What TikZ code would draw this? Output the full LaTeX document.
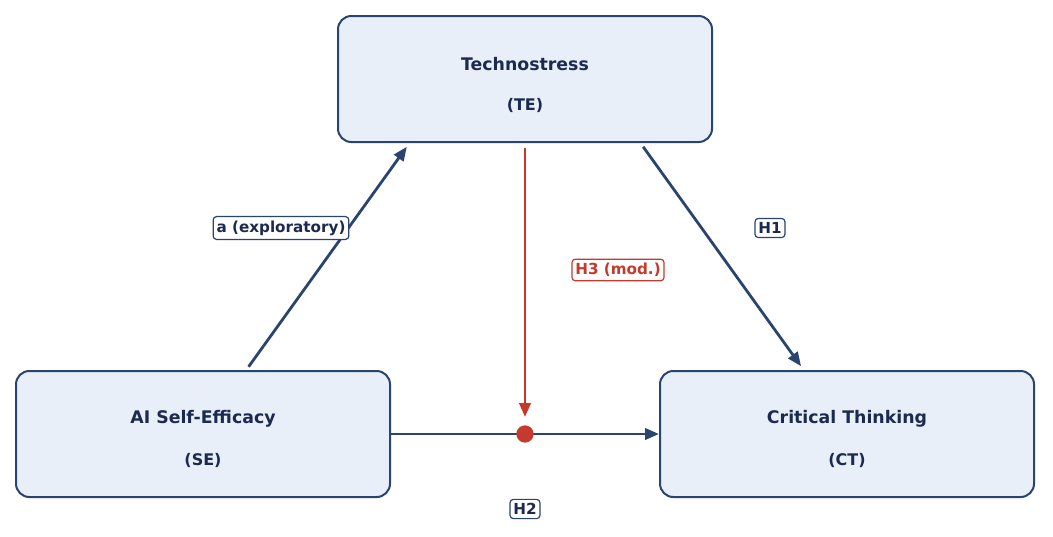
\documentclass[tikz,border=0pt]{standalone}
\usepackage{fontspec}
\setmainfont{DejaVu Sans}
\usetikzlibrary{arrows.meta,calc}
\definecolor{navy}{HTML}{2A4470}
\definecolor{ink}{HTML}{1B2A4E}
\definecolor{boxfill}{HTML}{E9EFF8}
\definecolor{modred}{HTML}{C43A2C}

\begin{document}
\begin{tikzpicture}[
  x=0.75pt, y=-0.75pt,
  construct/.style={rectangle, rounded corners=10pt, draw=navy, line width=1.5pt, fill=boxfill,
    minimum width=280.5pt, minimum height=94.5pt},
  title/.style={text=ink, font=\bfseries\fontsize{13}{15}\selectfont, inner sep=0pt},
  abbrev/.style={text=ink, font=\bfseries\fontsize{12}{14}\selectfont, inner sep=0pt},
  tag/.style={rectangle, rounded corners=2.5pt, draw=navy, line width=0.9pt, fill=white,
    text=ink, font=\bfseries\fontsize{11.4}{13}\selectfont, inner xsep=2.5pt, inner ysep=3pt},
  path/.style={draw=navy, line width=2.1pt, -{Stealth[length=10.5pt,width=8.5pt,inset=0pt]}},
  modpath/.style={draw=modred, line width=2.2pt, -{Stealth[length=10.5pt,width=8.5pt,inset=0pt]}}
]
\useasboundingbox (0,0) rectangle (1053,536);

\node[construct] (te) at (525,79) {};
\node[construct] (se) at (203,434) {};
\node[construct] (ct) at (847,434) {};
\node[title] (te-t) at ($(te)+(0,-15)$) {Technostress};
\node[abbrev] (te-a) at ($(te)+(0,26)$) {(TE)};
\node[title] (se-t) at ($(se)+(0,-15)$) {AI Self-Efficacy};
\node[abbrev] (se-a) at ($(se)+(0,26)$) {(SE)};
\node[title] (ct-t) at ($(ct)+(0,-15)$) {Critical Thinking};
\node[abbrev] (ct-a) at ($(ct)+(0,26)$) {(CT)};

\draw[path, shorten <=3pt, shorten >=3.5pt] ($(se.north west)!0.615!(se.north east)$) -- ($(te.south west)!0.193!(te.south east)$);
\draw[path, shorten <=3.5pt, shorten >=3.5pt] ($(te.south west)!0.807!(te.south east)$) -- ($(ct.north west)!0.385!(ct.north east)$);
\draw[path, line width=2.2pt] (se.east) -- (ct.west);

\node[circle, fill=modred, inner sep=0pt, minimum size=13pt] (mid) at (525,434) {};
\draw[modpath, shorten <=3.5pt, shorten >=6pt] (te.south) -- (mid.north);

\node[tag] (a) at (281,228) {a (exploratory)};
\node[tag] (h1) at (770,228) {H1};
\node[tag, draw=modred, text=modred] (h3) at (618,270) {H3 (mod.)};
\node[tag] (h2) at (525,509) {H2};

\end{tikzpicture}
\end{document}
